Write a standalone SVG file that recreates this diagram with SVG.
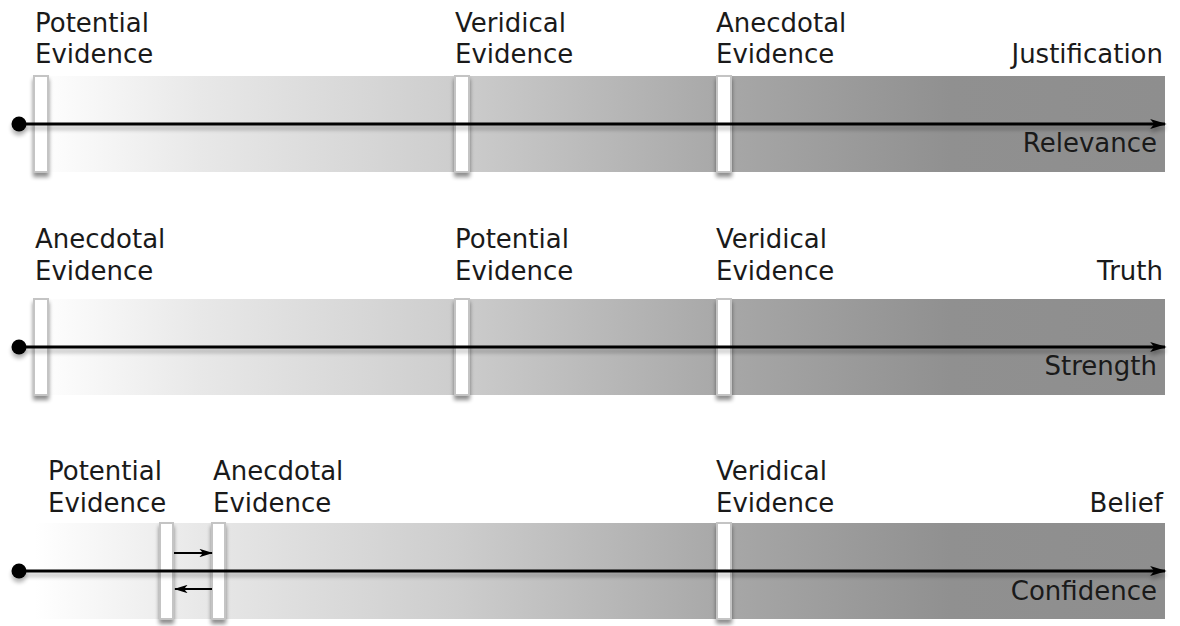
<svg xmlns="http://www.w3.org/2000/svg" width="1180" height="626" viewBox="0 0 1180 626">
<style>
  text { font-family: "DejaVu Sans", "Liberation Sans", sans-serif; font-size: 26px; fill: #1a1a1a; }
  .r { text-anchor: end; }
  .bar { fill: #ffffff; stroke: #c4c4c4; stroke-width: 2; filter: url(#sh); }
  .axis { stroke: #000; stroke-width: 3; fill: none; marker-end: url(#ah); filter: url(#lsh); }
  .small { stroke: #000; stroke-width: 2; fill: none; marker-end: url(#sah); }
</style>
<defs>
  <linearGradient id="g" gradientUnits="userSpaceOnUse" x1="35" y1="0" x2="1165" y2="0">
    <stop offset="0" stop-color="#ffffff"/>
    <stop offset="0.146" stop-color="#e8e8e8"/>
    <stop offset="0.372" stop-color="#cdcdcd"/>
    <stop offset="0.606" stop-color="#a8a8a8"/>
    <stop offset="0.81" stop-color="#909090"/>
    <stop offset="1" stop-color="#8e8e8e"/>
  </linearGradient>
  <filter id="sh" x="-100%" y="-20%" width="300%" height="140%">
    <feGaussianBlur in="SourceAlpha" stdDeviation="2"/>
    <feOffset dy="4" result="b"/>
    <feComponentTransfer><feFuncA type="linear" slope="0.45"/></feComponentTransfer>
    <feMerge><feMergeNode/><feMergeNode in="SourceGraphic"/></feMerge>
  </filter>
  <filter id="lsh" filterUnits="userSpaceOnUse" x="0" y="0" width="1180" height="626">
    <feGaussianBlur in="SourceAlpha" stdDeviation="2"/>
    <feOffset dy="4" result="b"/>
    <feComponentTransfer><feFuncA type="linear" slope="0.3"/></feComponentTransfer>
    <feMerge><feMergeNode/><feMergeNode in="SourceGraphic"/></feMerge>
  </filter>
  <marker id="ah" viewBox="0 0 10 6" refX="9" refY="3" markerWidth="5.5" markerHeight="3.3" orient="auto" markerUnits="strokeWidth">
    <path d="M0,0 L10,3 L0,6 L2.5,3 Z" fill="#000"/>
  </marker>
  <marker id="sah" viewBox="0 0 10 6" refX="9" refY="3" markerWidth="7" markerHeight="4.2" orient="auto" markerUnits="strokeWidth">
    <path d="M0,0 L10,3 L0,6 L2.5,3 Z" fill="#000"/>
  </marker>
</defs>

<g id="row1">
  <rect x="35" y="76" width="1130" height="96" fill="url(#g)"/>
  <g id="r1-potential"><rect class="bar" x="34" y="76" width="14" height="96"/><text x="35" y="32">Potential</text><text x="35" y="63">Evidence</text></g>
  <g id="r1-veridical"><rect class="bar" x="455" y="76" width="14" height="96"/><text x="455" y="32">Veridical</text><text x="455" y="63">Evidence</text></g>
  <g id="r1-anecdotal"><rect class="bar" x="717" y="76" width="14" height="96"/><text x="716" y="32">Anecdotal</text><text x="716" y="63">Evidence</text></g>
  <g id="r1-axis"><text class="r" x="1163" y="63">Justification</text><text class="r" x="1157" y="152">Relevance</text></g>
</g>

<g id="row2">
  <rect x="35" y="299" width="1130" height="96" fill="url(#g)"/>
  <g id="r2-anecdotal"><rect class="bar" x="34" y="299" width="14" height="96"/><text x="35" y="248">Anecdotal</text><text x="35" y="280">Evidence</text></g>
  <g id="r2-potential"><rect class="bar" x="455" y="299" width="14" height="96"/><text x="455" y="248">Potential</text><text x="455" y="280">Evidence</text></g>
  <g id="r2-veridical"><rect class="bar" x="717" y="299" width="14" height="96"/><text x="716" y="248">Veridical</text><text x="716" y="280">Evidence</text></g>
  <g id="r2-axis"><text class="r" x="1163" y="280">Truth</text><text class="r" x="1157" y="375">Strength</text></g>
</g>

<g id="row3">
  <rect x="22" y="523" width="1143" height="96" fill="url(#g)"/>
  <g id="r3-potential"><rect class="bar" x="160" y="523" width="13" height="96"/><text x="48" y="480">Potential</text><text x="48" y="512">Evidence</text></g>
  <g id="r3-anecdotal"><rect class="bar" x="212" y="523" width="13" height="96"/><text x="213" y="480">Anecdotal</text><text x="213" y="512">Evidence</text></g>
  <g id="r3-veridical"><rect class="bar" x="717" y="523" width="14" height="96"/><text x="716" y="480">Veridical</text><text x="716" y="512">Evidence</text></g>
  <g id="r3-axis"><text class="r" x="1163" y="512">Belief</text><text class="r" x="1157" y="600">Confidence</text></g>
</g>

<g id="connectors">
  <circle cx="19" cy="124" r="7.5" fill="#000" filter="url(#lsh)"/>
  <line class="axis" x1="19" y1="124" x2="1165" y2="124"/>
  <circle cx="19" cy="347" r="7.5" fill="#000" filter="url(#lsh)"/>
  <line class="axis" x1="19" y1="347" x2="1165" y2="347"/>
  <circle cx="19" cy="571" r="7.5" fill="#000" filter="url(#lsh)"/>
  <line class="axis" x1="19" y1="571" x2="1165" y2="571"/>
  <line class="small" x1="174" y1="553" x2="212" y2="553"/>
  <line class="small" x1="212" y1="589" x2="175" y2="589"/>
</g>
</svg>
